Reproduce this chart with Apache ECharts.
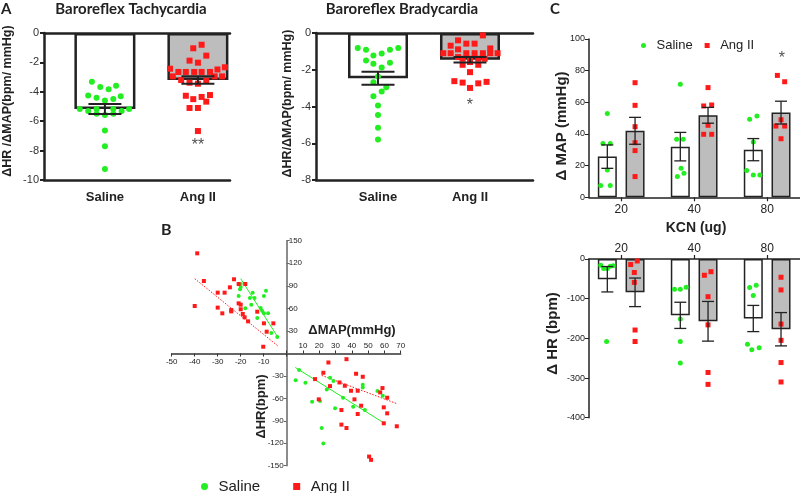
<!DOCTYPE html>
<html><head><meta charset="utf-8">
<script src="https://cdn.jsdelivr.net/npm/echarts@6/dist/echarts.min.js"></script>
<style>html,body{margin:0;padding:0;background:#fff}#c{width:800px;height:493px}</style>
</head><body><div id="c"></div><script>
// ---------- Panel A data ----------
const groupsA = ['Saline', 'Ang II'];
const tachySaline = [-3.31,-3.58,-3.67,-3.83,-4.26,-4.31,-4.40,-4.49,-4.60,-5.17,-5.31,-5.17,-5.17,-5.31,-5.17,-5.49,-5.58,-5.49,-6.64,-7.71,-9.25];
const tachySalineJit = [-0.14,0.12,-0.05,0.04,-0.18,0.17,-0.09,0.09,0,-0.27,-0.18,-0.09,0.09,0.18,0.26,-0.09,0,0.09,0,0,0];
const tachyAng = [-0.80,-1.04,-1.54,-1.88,-2.02,-2.43,-2.33,-2.48,-2.65,-2.65,-2.65,-2.65,-2.65,-2.95,-2.95,-2.95,-3.20,-3.25,-3.38,-3.45,-4.27,-4.35,-4.22,-4.50,-4.67,-5.10,-5.10,-6.67];
const tachyAngJit = [0.04,-0.05,0.09,-0.09,0,-0.30,0.29,0.21,-0.21,-0.13,-0.04,0.04,0.13,-0.27,0.18,0.26,-0.18,0.09,-0.09,0,-0.13,0.04,0.13,-0.05,0.09,-0.09,0,0];
const tachyMean = [-5.17, -3.20];
const tachySem = [0.34, 0.25];
const bradySaline = [-0.82,-0.91,-1.22,-1.11,-0.91,-0.82,-1.49,-1.68,-1.88,-1.62,-2.37,-2.68,-2.95,-3.19,-3.44,-3.95,-4.46,-5.15,-5.79];
const bradySalineJit = [-0.22,-0.13,-0.05,0.04,0.13,0.22,-0.13,-0.05,0.04,0.13,0,-0.05,0.09,0.04,-0.05,0,0,0,0];
const bradyAng = [-0.13,-0.40,-0.58,-0.58,-0.69,-0.89,-0.84,-1.10,-1.10,-1.10,-1.10,-1.10,-1.10,-1.10,-1.31,-1.40,-1.40,-1.40,-1.40,-1.58,-1.73,-1.73,-2.13,-2.62,-2.70,-2.74,-2.66,-2.99];
const bradyAngJit = [0.14,-0.13,-0.04,0.05,-0.21,-0.13,0.22,-0.29,-0.21,-0.04,0.05,0.14,0.22,0.30,-0.13,-0.08,0,0.09,0.16,0,-0.08,0.09,0,-0.17,-0.08,0.09,0.18,0];
const bradyMean = [-2.46, -1.46];
const bradySem = [0.35, 0.15];
const tachyStar = [[1, -7.68, '**']];
const bradyStar = [[1, -3.97, '*']];

// ---------- Panel B data (ΔMAP, ΔHR) ----------
const tachyPtsSaline = [[-20,92.4],[-20,88.4],[-20.3,85.3],[-14.8,80.9],[-20.9,76.5],[-16,73.8],[-14,73.8],[-15.4,64.9],[-18,60.1],[-9,83.5],[-9.9,76.5],[-11.3,60.5],[-10.7,56.9],[-12.8,47.2],[-9.9,53.4],[-8.1,53.4],[-6.7,27.3],[-4.1,22]];
const tachyPtsAng = [[-38.9,133.2],[-36,96.4],[-40,63.2],[-30,80.9],[-27,80.9],[-30,61],[-28,53.4],[-24.7,88],[-22.9,98.7],[-24.1,57.8],[-24.1,56],[-20.9,92.4],[-18,92.4],[-20.9,66.7],[-20,64.9],[-20,58.8],[-19.1,52.5],[-18.3,48.1],[-16.8,42.8],[-12.8,55.6],[-9.9,40.1],[-5.8,40.1],[-8.7,29],[-10.2,9]];
const tachyFitSaline = [[-20,99.5],[-3.8,21.5]];
const tachyFitAng = [[-40,99.5],[-3.8,10]];
const bradyPtsSaline = [[5.5,-35.6],[7.6,-22.2],[11.5,-39.1],[15.6,-64.4],[20.5,-63.6],[21.5,-99.6],[22.5,-120.4],[24.6,-48],[26.6,-32.4],[28.7,-36.9],[29.7,-73.3],[34.6,-59.1],[40.8,-71.1],[46.7,-41.8],[46.7,-45.3],[48,-75.6],[55.7,-50.2],[59,-56.4]];
const bradyPtsAng = [[25.6,-12],[36.7,-7.6],[22.5,-25.8],[17.4,-34.2],[19.7,-61.3],[26.6,-43.6],[32.4,-38.7],[35.7,-43.1],[39.5,-49.8],[42.6,-27.1],[41.6,-61.3],[43.6,-49.8],[46.7,-31.1],[45.7,-69.8],[43.6,-80.9],[33.6,-75.6],[33.6,-95.1],[36.7,-99.6],[57.4,-52],[58.8,-46.2],[61.7,-59.1],[59.6,-72],[61.7,-80],[59.6,-93.3],[67.6,-97.3],[50.6,-137.8],[51.8,-142.2]];
const bradyFitSaline = [[5.3,-18.7],[60,-93.3]];
const bradyFitAng = [[21.5,-29.3],[67.2,-66.7]];

// ---------- Panel C data ----------
const kcnDoses = ['20', '40', '80'];
const mapSaline = [[53,34,34,17.3,7.4,7.4],[71.4,36.6,36.6,18.3,13.1,15.2],[49.3,51.4,35,17,14.1,14.1]];
const mapSalineJit = [[0,-0.06,0.04,0,-0.09,0.04],[0,-0.05,0.04,0.01,-0.04,0.05],[-0.05,0.05,0,-0.09,0,0.09]];
const mapAng = [[72.4,58.1,44.6,34.5,29.5,13.1],[69.3,57.7,58.3,45.5,39.8,39.8],[77,73,49,45,45,37]];
const mapAngJit = [[0,0,0,0,0,0],[0,-0.06,0.05,0,-0.06,0.05],[-0.05,0.05,0,-0.07,0.05,0]];
const mapMeanSaline = [25.7, 32, 30.1];
const mapMeanAng = [42, 51.8, 53.5];
const mapSemSaline = [7.4, 9, 7];
const mapSemAng = [8.5, 5, 7.2];
const mapStar = [[2.2, 87.4, '*']];
const hrSaline = [[-16,-24,-24,-18,-17,-208],[-76,-76,-71,-151,-208,-262],[-72,-66,-92,-215,-229,-224]];
const hrSalineJit = [[-0.09,-0.05,0,0.04,0.08,-0.01],[-0.08,0,0.08,0,0,0],[-0.05,0.04,0,-0.08,-0.02,0.08]];
const hrAng = [[-14,-5,-34,-59,-179,-208],[-41,-32,-95,-166,-286,-316],[-46,-78,-164,-205,-261,-310]];
const hrAngJit = [[-0.06,0.03,-0.01,-0.01,0,0],[-0.05,0.04,0,0,0,0],[0,0,0,0,0,0]];
const hrMeanSaline = [-51, -142, -150];
const hrMeanAng = [-84, -157, -177];
const hrSemSaline = [32, 33, 33];
const hrSemAng = [36, 50, 42];

// ---------- styling ----------
const GREEN = '#22ee22', RED = '#ff1a1a', GRAY = '#bdbdbd', INK = '#222';
const SANS = 'Liberation Sans, Arial, sans-serif';
const HEAD = 'Lato, Liberation Sans, sans-serif';
const OFF = 0.19; // half distance between paired bars in C (category units)
const SQUARE = 'path://M0,0H10V10H0Z';

function dots(vals, jit, base) { return vals.map((v, i) => [base + jit[i], v]); }
function errRender(cap, lw) {
  return function (params, api) {
    const x = api.value(0), m = api.value(1), s = api.value(2);
    const t = api.coord([x, m + s]), b = api.coord([x, m - s]);
    const st = { stroke: INK, lineWidth: lw };
    return { type: 'group', children: [
      { type: 'line', shape: { x1: t[0], y1: t[1], x2: b[0], y2: b[1] }, style: st },
      { type: 'line', shape: { x1: t[0] - cap / 2, y1: t[1], x2: t[0] + cap / 2, y2: t[1] }, style: st },
      { type: 'line', shape: { x1: b[0] - cap / 2, y1: b[1], x2: b[0] + cap / 2, y2: b[1] }, style: st }
    ]};
  };
}
function starSeries(xi, yi, arr, size) {
  return { type: 'scatter', xAxisIndex: xi, yAxisIndex: yi, symbolSize: 0, silent: true, z: 6,
    data: arr.map(a => ({ value: [a[0], a[1]], label: { formatter: a[2] } })),
    label: { show: true, position: 'inside', color: '#222', fontSize: size, fontFamily: SANS } };
}
const hide0 = v => (v === 0 ? '' : String(v));

// A axes helpers
function aX(grid, min, max) {
  return [
    { type: 'value', gridIndex: grid, min: min, max: max, position: 'bottom',
      axisLine: { onZero: false, lineStyle: { color: INK, width: 2.5 } }, axisTick: { show: false },
      splitLine: { show: false },
      axisLabel: { customValues: [0, 1], formatter: v => groupsA[Math.round(v)], margin: 11,
        fontFamily: SANS, fontWeight: 'bold', fontSize: 13, color: INK } },
    { type: 'value', gridIndex: grid, min: min, max: max, position: 'top',
      axisLine: { onZero: false, lineStyle: { color: INK, width: 2.5 } }, axisTick: { show: false },
      axisLabel: { show: false }, splitLine: { show: false } }
  ];
}
function aY(grid, min) {
  return { type: 'value', gridIndex: grid, min: min, max: 0, interval: 2,
    axisLine: { show: true, onZero: false, lineStyle: { color: INK, width: 2.5 } },
    axisTick: { show: true, length: 4, lineStyle: { color: INK, width: 2 } },
    splitLine: { show: false },
    axisLabel: { fontFamily: SANS, fontSize: 11, color: '#333', margin: 5 } };
}

const xAxes = [
  ...aX(0, -0.655, 1.345),
  ...aX(1, -0.674, 1.685),
  { type: 'value', gridIndex: 2, min: -50, max: 0, interval: 10, position: 'bottom',
    axisLine: { onZero: false, lineStyle: { color: '#333', width: 1.5 } },
    axisTick: { length: 3, lineStyle: { color: '#333' } }, splitLine: { show: false },
    axisLabel: { formatter: hide0, fontFamily: SANS, fontSize: 8, color: INK, margin: 4 } },
  { type: 'value', gridIndex: 3, min: 0, max: 70, interval: 10, position: 'top',
    axisLine: { onZero: false, lineStyle: { color: '#333', width: 1.5 } },
    axisTick: { length: 3, lineStyle: { color: '#333' } }, splitLine: { show: false },
    axisLabel: { formatter: hide0, fontFamily: SANS, fontSize: 8, color: INK, margin: 4 } },
  { type: 'value', gridIndex: 4, min: -0.441, max: 2.45, position: 'bottom',
    axisLine: { onZero: false, lineStyle: { color: INK, width: 1.5 } },
    axisTick: { customValues: [0, 1, 2], length: 4, lineStyle: { color: INK, width: 1.2 } },
    splitLine: { show: false },
    axisLabel: { customValues: [0, 1, 2], formatter: v => kcnDoses[Math.round(v)], margin: 6,
      fontFamily: SANS, fontSize: 12, color: INK } },
  { type: 'value', gridIndex: 5, min: -0.441, max: 2.45, position: 'top',
    axisLine: { onZero: false, lineStyle: { color: INK, width: 1.5 } },
    axisTick: { customValues: [0, 1, 2], length: 4, lineStyle: { color: INK, width: 1.2 } },
    splitLine: { show: false },
    axisLabel: { customValues: [0, 1, 2], formatter: v => kcnDoses[Math.round(v)], margin: 4,
      fontFamily: SANS, fontSize: 12, color: INK } }
];
const yAxes = [
  aY(0, -10),
  aY(1, -8),
  { type: 'value', gridIndex: 2, min: 0, max: 150, interval: 30, position: 'right',
    axisLine: { show: true, onZero: false, lineStyle: { color: '#666', width: 1.5 } },
    axisTick: { show: true, length: 3, lineStyle: { color: '#666' } }, splitLine: { show: false },
    axisLabel: { formatter: hide0, fontFamily: SANS, fontSize: 8, color: INK, margin: 2 } },
  { type: 'value', gridIndex: 3, min: -150, max: 0, interval: 30, position: 'left',
    axisLine: { show: true, onZero: false, lineStyle: { color: '#666', width: 1.5 } },
    axisTick: { show: true, length: 3, lineStyle: { color: '#666' } }, splitLine: { show: false },
    axisLabel: { formatter: hide0, fontFamily: SANS, fontSize: 8, color: INK, margin: 3 } },
  { type: 'value', gridIndex: 4, min: 0, max: 100, interval: 20,
    axisLine: { show: true, onZero: false, lineStyle: { color: INK, width: 1.5 } },
    axisTick: { show: true, length: 4, lineStyle: { color: INK } }, splitLine: { show: false },
    axisLabel: { fontFamily: SANS, fontSize: 9, color: INK, margin: 4 } },
  { type: 'value', gridIndex: 5, min: -400, max: 0, interval: 100,
    axisLine: { show: true, onZero: false, lineStyle: { color: INK, width: 1.5 } },
    axisTick: { show: true, length: 4, lineStyle: { color: INK } }, splitLine: { show: false },
    axisLabel: { fontFamily: SANS, fontSize: 9, color: INK, margin: 4 } }
];

function barsA(xi, yi, means, w) {
  return { type: 'bar', xAxisIndex: xi, yAxisIndex: yi, barWidth: w, z: 1, silent: true,
    data: means.map((m, i) => ({ value: [i, m],
      itemStyle: { color: i === 0 ? '#fff' : GRAY, borderColor: INK, borderWidth: 2.5 } })) };
}
function scat(name, xi, yi, data, color, symbol, size) {
  return { type: 'scatter', name: name, xAxisIndex: xi, yAxisIndex: yi, data: data,
    symbol: symbol, symbolSize: size, itemStyle: { color: color, opacity: 1 }, z: 3, silent: true };
}
function errA(xi, yi, means, sems) {
  return { type: 'custom', xAxisIndex: xi, yAxisIndex: yi, z: 5, silent: true,
    renderItem: errRender(33, 2), data: means.map((m, i) => [i, m, sems[i]]) };
}
function fit(xi, yi, data, color, dashed) {
  return { type: 'line', xAxisIndex: xi, yAxisIndex: yi, data: data, symbol: 'none', silent: true, z: 2,
    lineStyle: { color: color, width: 1, type: dashed ? [1.5, 1.5] : 'solid' } };
}
// C helpers
function barsC(xi, yi, meansS, meansA) {
  const d = [];
  meansS.forEach((m, i) => d.push({ value: [i - OFF, m], itemStyle: { color: '#fff', borderColor: INK, borderWidth: 1.5 } }));
  meansA.forEach((m, i) => d.push({ value: [i + OFF, m], itemStyle: { color: GRAY, borderColor: INK, borderWidth: 1.5 } }));
  return { type: 'bar', xAxisIndex: xi, yAxisIndex: yi, barWidth: 19, z: 1, silent: true, data: d };
}
function dotsC(vals, jits, sign) {
  const out = [];
  vals.forEach((g, i) => g.forEach((v, k) => out.push([i + sign * OFF + jits[i][k], v])));
  return out;
}
function errC(xi, yi, mS, sS, mA, sA) {
  const d = [];
  mS.forEach((m, i) => d.push([i - OFF, m, sS[i]]));
  mA.forEach((m, i) => d.push([i + OFF, m, sA[i]]));
  return { type: 'custom', xAxisIndex: xi, yAxisIndex: yi, z: 5, silent: true,
    renderItem: errRender(12, 1.3), data: d };
}

const series = [
  // A1
  barsA(0, 0, tachyMean, 61),
  scat('Saline', 0, 0, dots(tachySaline, tachySalineJit, 0), GREEN, 'circle', 6),
  scat('Ang II', 0, 0, dots(tachyAng, tachyAngJit, 1), RED, 'rect', 6),
  errA(0, 0, tachyMean, tachySem),
  starSeries(0, 0, tachyStar, 16),
  // A2
  barsA(2, 1, bradyMean, 60),
  scat('Saline', 2, 1, dots(bradySaline, bradySalineJit, 0), GREEN, 'circle', 6),
  scat('Ang II', 2, 1, dots(bradyAng, bradyAngJit, 1), RED, 'rect', 6),
  errA(2, 1, bradyMean, bradySem),
  starSeries(2, 1, bradyStar, 16),
  // B
  scat('Saline', 4, 2, tachyPtsSaline, GREEN, 'circle', 4),
  scat('Ang II', 4, 2, tachyPtsAng, RED, 'rect', 4),
  fit(4, 2, tachyFitSaline, GREEN, false),
  fit(4, 2, tachyFitAng, RED, true),
  scat('Saline', 5, 3, bradyPtsSaline, GREEN, 'circle', 4),
  scat('Ang II', 5, 3, bradyPtsAng, RED, 'rect', 4),
  fit(5, 3, bradyFitSaline, GREEN, false),
  fit(5, 3, bradyFitAng, RED, true),
  // C top
  barsC(6, 4, mapMeanSaline, mapMeanAng),
  scat('Saline', 6, 4, dotsC(mapSaline, mapSalineJit, -1), GREEN, 'circle', 5),
  scat('Ang II', 6, 4, dotsC(mapAng, mapAngJit, 1), RED, 'rect', 5),
  errC(6, 4, mapMeanSaline, mapSemSaline, mapMeanAng, mapSemAng),
  starSeries(6, 4, mapStar, 16),
  // C bottom
  barsC(7, 5, hrMeanSaline, hrMeanAng),
  scat('Saline', 7, 5, dotsC(hrSaline, hrSalineJit, -1), GREEN, 'circle', 5),
  scat('Ang II', 7, 5, dotsC(hrAng, hrAngJit, 1), RED, 'rect', 5),
  errC(7, 5, hrMeanSaline, hrSemSaline, hrMeanAng, hrSemAng)
];

function txt(x, y, text, size, opts) {
  opts = opts || {};
  return { type: 'text', x: x, y: y, rotation: opts.rot || 0, silent: true,
    style: { text: text, fontFamily: opts.font || SANS, fontSize: size, fontWeight: opts.weight || 'bold',
      fill: opts.color || INK, align: opts.align || 'center', verticalAlign: 'middle' } };
}
const graphics = [
  txt(1, 9, 'A', 15, { font: HEAD, align: 'left' }),
  txt(131, 9, 'Baroreflex Tachycardia', 15, { font: HEAD }),
  txt(402, 9, 'Baroreflex Bradycardia', 15, { font: HEAD }),
  txt(161, 230, 'B', 16, { font: HEAD, align: 'left' }),
  txt(550, 9, 'C', 15, { font: HEAD, align: 'left' }),
  txt(8, 101, 'ΔHR /ΔMAP(bpm/ mmHg)', 12.5, { rot: Math.PI / 2 }),
  txt(288, 103.5, 'ΔHR/ΔMAP(bpm/ mmHg)', 12.5, { rot: Math.PI / 2 }),
  txt(561.5, 126, 'Δ MAP (mmHg)', 15, { rot: Math.PI / 2 }),
  txt(553, 333.5, 'Δ HR (bpm)', 15, { rot: Math.PI / 2 }),
  txt(696, 228, 'KCN (ug)', 14),
  txt(352, 330.5, 'ΔMAP(mmHg)', 13),
  txt(261.5, 406.5, 'ΔHR(bpm)', 13, { rot: Math.PI / 2 })
];

const chart = echarts.init(document.getElementById('c'), null, { renderer: 'canvas' });
chart.setOption({
  animation: false,
  backgroundColor: '#fff',
  grid: [
    { left: 44, top: 33, width: 186, height: 147 },
    { left: 316, top: 33, width: 217, height: 147 },
    { left: 171.7, top: 240.7, width: 115, height: 112.8 },
    { left: 286.7, top: 353.5, width: 114, height: 112.2 },
    { left: 589, top: 39, width: 211, height: 158.3 },
    { left: 589, top: 259, width: 211, height: 158.7 }
  ],
  xAxis: xAxes,
  yAxis: yAxes,
  legend: [
    { left: 636, top: 34, itemWidth: 16, itemHeight: 5, itemGap: 12, selectedMode: false, symbolKeepAspect: true,
      textStyle: { fontFamily: SANS, fontSize: 13, color: INK },
      data: [{ name: 'Saline', icon: 'circle' }, { name: 'Ang II', icon: SQUARE }] },
    { left: 196, top: 474, itemWidth: 18, itemHeight: 7, itemGap: 33, selectedMode: false, symbolKeepAspect: true,
      textStyle: { fontFamily: SANS, fontSize: 15, color: INK },
      data: [{ name: 'Saline', icon: 'circle' }, { name: 'Ang II', icon: SQUARE }] }
  ],
  graphic: graphics,
  series: series
});
</script></body></html>
